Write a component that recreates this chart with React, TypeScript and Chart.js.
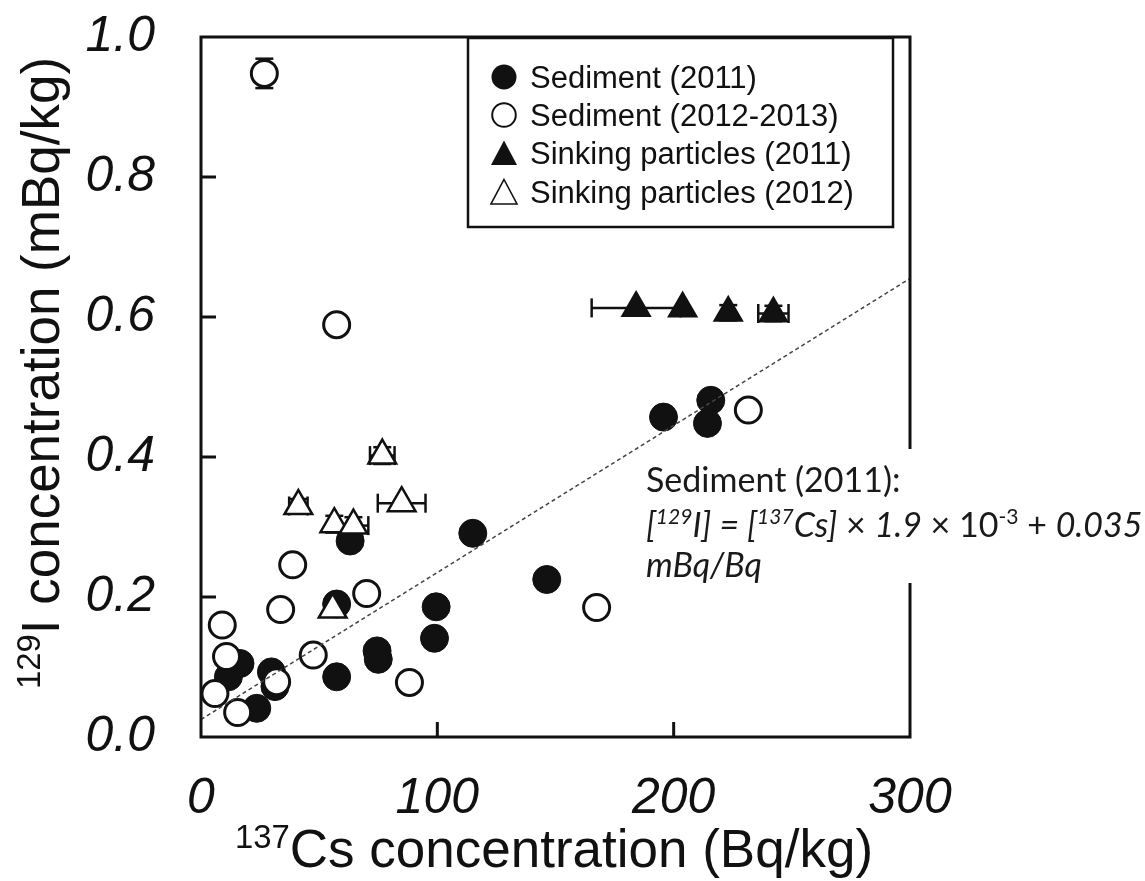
import React, { useEffect, useRef } from 'react';
import { Chart, registerables } from 'chart.js';

Chart.register(...registerables);

// ---------------- data ----------------
const xTicks = [0, 100, 200, 300];
const yTicks = [0, 0.2, 0.4, 0.6, 0.8, 1.0];

const legendLabels = [
  'Sediment (2011)',
  'Sediment (2012-2013)',
  'Sinking particles (2011)',
  'Sinking particles (2012)',
];

// Sediment (2011) – filled circles
const sed2011X = [195.7, 215.7, 214.3, 115.0, 146.3, 99.5, 98.8, 74.5, 75.0, 57.4, 57.4, 63.1, 16.5, 11.6, 23.6, 29.8, 31.3];
const sed2011Y = [0.457, 0.481, 0.448, 0.291, 0.225, 0.186, 0.141, 0.123, 0.111, 0.086, 0.19, 0.28, 0.105, 0.086, 0.041, 0.093, 0.072];

// Sediment (2012-2013) – open circles
const sed1213X = [26.8, 57.4, 38.8, 33.7, 70.1, 47.5, 9.0, 10.8, 5.9, 15.5, 32.0, 88.2, 167.4, 231.6];
const sed1213Y = [0.948, 0.589, 0.246, 0.182, 0.205, 0.117, 0.16, 0.115, 0.062, 0.035, 0.079, 0.078, 0.185, 0.467];
const sed1213ErrY = [0.021, 0, 0, 0, 0, 0, 0, 0, 0, 0, 0, 0, 0, 0];

// Sinking particles (2011) – filled triangles
const sink2011X = [184.1, 203.8, 223.1, 242.2];
const sink2011Y = [0.613, 0.612, 0.606, 0.605];
const sink2011ErrX = [18.8, 0, 0, 6.4];
const sink2011ErrY = [0, 0, 0.011, 0.011];

// Sinking particles (2012) – open triangles
const sink2012X = [76.7, 84.9, 41.2, 56.4, 64.5, 55.7];
const sink2012Y = [0.402, 0.334, 0.33, 0.304, 0.302, 0.182];
const sink2012ErrX = [5.2, 10.1, 3.9, 0, 6.3, 0];
const sink2012ErrY = [0.012, 0, 0.01, 0.012, 0.012, 0];

// Regression line (dashed)
const fitX = [0, 300];
const fitSlope = 0.0021;
const fitIntercept = 0.025;

// ---------------- styling ----------------
const FONT = '"Liberation Sans", Arial, sans-serif';
const ANN_FONT = 'Lato, "Open Sans", sans-serif';
const INK = '#111';

const pts = (xs: number[], ys: number[]) => xs.map((x, i) => ({ x, y: ys[i] }));

const errorSets: Record<string, { x?: number[]; y?: number[] }> = {
  [legendLabels[1]]: { y: sed1213ErrY },
  [legendLabels[2]]: { x: sink2011ErrX, y: sink2011ErrY },
  [legendLabels[3]]: { x: sink2012ErrX, y: sink2012ErrY },
};

type Seg = { t: string; it?: boolean; sup?: boolean };

function drawRich(
  ctx: CanvasRenderingContext2D,
  segs: Seg[],
  x: number,
  y: number,
  size: number,
  family: string,
  align: 'left' | 'center',
  supScale = 0.62,
  supRaise = 0.38
) {
  const fontOf = (s: Seg) => `${s.it ? 'italic ' : ''}${s.sup ? size * supScale : size}px ${family}`;
  const widths = segs.map((s) => {
    ctx.font = fontOf(s);
    return ctx.measureText(s.t).width;
  });
  const total = widths.reduce((a, b) => a + b, 0);
  let cx = align === 'center' ? x - total / 2 : x;
  ctx.textAlign = 'left';
  ctx.textBaseline = 'alphabetic';
  segs.forEach((s, i) => {
    ctx.font = fontOf(s);
    ctx.fillText(s.t, cx, s.sup ? y - size * supRaise : y);
    cx += widths[i];
  });
}

function line(ctx: CanvasRenderingContext2D, x1: number, y1: number, x2: number, y2: number) {
  ctx.beginPath();
  ctx.moveTo(x1, y1);
  ctx.lineTo(x2, y2);
  ctx.stroke();
}

const decorPlugin = {
  id: 'decor',
  beforeDatasetsDraw(chart: any) {
    const ctx: CanvasRenderingContext2D = chart.ctx;
    const xs = chart.scales.x;
    const ys = chart.scales.y;
    ctx.save();
    ctx.strokeStyle = INK;
    ctx.lineWidth = 2.5;
    chart.data.datasets.forEach((ds: any) => {
      const err = errorSets[ds.label];
      if (!err) return;
      ds.data.forEach((p: any, j: number) => {
        const px = xs.getPixelForValue(p.x);
        const py = ys.getPixelForValue(p.y);
        if (err.x && err.x[j]) {
          const x1 = xs.getPixelForValue(p.x - err.x[j]);
          const x2 = xs.getPixelForValue(p.x + err.x[j]);
          line(ctx, x1, py, x2, py);
          line(ctx, x1, py - 9.5, x1, py + 9.5);
          line(ctx, x2, py - 9.5, x2, py + 9.5);
        }
        if (err.y && err.y[j]) {
          const y1 = ys.getPixelForValue(p.y - err.y[j]);
          const y2 = ys.getPixelForValue(p.y + err.y[j]);
          line(ctx, px, y1, px, y2);
          line(ctx, px - 9, y1, px + 9, y1);
          line(ctx, px - 9, y2, px + 9, y2);
        }
      });
    });
    ctx.restore();
  },
  afterDatasetsDraw(chart: any) {
    const ctx: CanvasRenderingContext2D = chart.ctx;
    const { left, right, top, bottom } = chart.chartArea;
    const xs = chart.scales.x;
    const ys = chart.scales.y;
    ctx.save();
    // frame
    ctx.strokeStyle = INK;
    ctx.lineWidth = 3;
    ctx.strokeRect(left, top, right - left, bottom - top);
    // inward ticks
    yTicks.forEach((v) => {
      if (v === yTicks[0] || v === yTicks[yTicks.length - 1]) return;
      const py = ys.getPixelForValue(v);
      line(ctx, left, py, left + 15, py);
    });
    xTicks.forEach((v) => {
      if (v === xTicks[0] || v === xTicks[xTicks.length - 1]) return;
      const px = xs.getPixelForValue(v);
      line(ctx, px, bottom, px, bottom - 15);
    });

    // annotation box (white background hides part of the frame)
    ctx.fillStyle = '#fff';
    ctx.fillRect(640, 449, 505, 134);
    ctx.fillStyle = '#1a1a1a';
    const s = 34;
    drawRich(ctx, [{ t: 'Sediment (2011):' }], 646, 492, s, ANN_FONT, 'left');
    drawRich(
      ctx,
      [
        { t: '[', it: true },
        { t: '129', it: true, sup: true },
        { t: 'I] = [', it: true },
        { t: '137', it: true, sup: true },
        { t: 'Cs]', it: true },
        { t: ' × ' },
        { t: '1.9', it: true },
        { t: ' × 10' },
        { t: '-3', sup: true },
        { t: ' + ' },
        { t: '0.035', it: true },
      ],
      646,
      537,
      s,
      ANN_FONT,
      'left'
    );
    drawRich(ctx, [{ t: 'mBq/Bq', it: true }], 646, 577, s, ANN_FONT, 'left');
    ctx.restore();
  },
  afterDraw(chart: any) {
    const ctx: CanvasRenderingContext2D = chart.ctx;
    ctx.save();
    // legend box
    const lx = 468, ly = 38, lw = 425, lh = 189;
    ctx.fillStyle = '#fff';
    ctx.fillRect(lx, ly, lw, lh);
    ctx.strokeStyle = INK;
    ctx.lineWidth = 2.5;
    ctx.strokeRect(lx, ly, lw, lh);
    const rows = [77, 115, 153, 192];
    const mx = 504;
    rows.forEach((ry, i) => {
      ctx.fillStyle = INK;
      ctx.strokeStyle = INK;
      if (i === 0) {
        ctx.beginPath();
        ctx.arc(mx, ry, 12.5, 0, Math.PI * 2);
        ctx.fill();
      } else if (i === 1) {
        ctx.lineWidth = 2;
        ctx.beginPath();
        ctx.arc(mx, ry, 11.8, 0, Math.PI * 2);
        ctx.stroke();
      } else {
        ctx.beginPath();
        ctx.moveTo(mx, ry - 12.5);
        ctx.lineTo(mx + 13, ry + 12);
        ctx.lineTo(mx - 13, ry + 12);
        ctx.closePath();
        if (i === 2) ctx.fill();
        else {
          ctx.lineWidth = 1.6;
          ctx.stroke();
        }
      }
      ctx.fillStyle = INK;
      ctx.font = `31px ${FONT}`;
      ctx.textAlign = 'left';
      ctx.textBaseline = 'alphabetic';
      ctx.fillText(legendLabels[i], 530, ry + 11);
    });

    // axis titles
    ctx.fillStyle = INK;
    drawRich(
      ctx,
      [{ t: '137', sup: true }, { t: 'Cs concentration (Bq/kg)' }],
      554,
      867,
      53,
      FONT,
      'center',
      0.62,
      0.36
    );
    ctx.translate(59, 373);
    ctx.rotate(-Math.PI / 2);
    drawRich(
      ctx,
      [{ t: '129', sup: true }, { t: 'I concentration (mBq/kg)' }],
      0,
      0,
      53,
      FONT,
      'center',
      0.62,
      0.36
    );
    ctx.restore();
  },
};

export default function App() {
  const ref = useRef<HTMLCanvasElement>(null);

  useEffect(() => {
    if (!ref.current) return;
    const tickFont = { family: FONT, size: 50, style: 'italic' as const, weight: 'normal' as const };
    const chart = new Chart(ref.current, {
      type: 'scatter',
      data: {
        datasets: [
          {
            type: 'line',
            label: 'fit',
            data: fitX.map((x) => ({ x, y: fitIntercept + fitSlope * x })),
            borderColor: '#444',
            borderWidth: 1.5,
            borderDash: [4, 3],
            pointRadius: 0,
            fill: false,
            order: 0,
            clip: false,
          } as any,
          {
            label: legendLabels[3],
            data: pts(sink2012X, sink2012Y),
            pointStyle: 'triangle',
            pointRadius: 16,
            backgroundColor: '#fff',
            borderColor: INK,
            borderWidth: 2.5,
            order: 1,
            clip: false,
          } as any,
          {
            label: legendLabels[2],
            data: pts(sink2011X, sink2011Y),
            pointStyle: 'triangle',
            pointRadius: 16.5,
            backgroundColor: INK,
            borderColor: INK,
            borderWidth: 1.5,
            order: 2,
            clip: false,
          } as any,
          {
            label: legendLabels[1],
            data: pts(sed1213X, sed1213Y),
            pointStyle: 'circle',
            pointRadius: 13,
            backgroundColor: '#fff',
            borderColor: INK,
            borderWidth: 3,
            order: 3,
            clip: false,
          } as any,
          {
            label: legendLabels[0],
            data: pts(sed2011X, sed2011Y),
            pointStyle: 'circle',
            pointRadius: 14,
            backgroundColor: INK,
            borderColor: INK,
            borderWidth: 1,
            order: 4,
            clip: false,
          } as any,
        ],
      },
      options: {
        animation: false,
        responsive: false,
        events: [],
        layout: { padding: { left: 0, right: 235, top: 37, bottom: 0 } },
        plugins: {
          legend: { display: false },
          tooltip: { enabled: false },
        },
        scales: {
          x: {
            type: 'linear',
            min: 0,
            max: 300,
            afterBuildTicks: (s: any) => {
              s.ticks = xTicks.map((value) => ({ value }));
            },
            afterFit: (s: any) => {
              s.height = 144;
              s.paddingLeft = 0;
              s.paddingRight = 0;
              s.paddingTop = 0;
              s.paddingBottom = 0;
            },
            grid: { display: false, drawTicks: false },
            border: { display: false },
            ticks: {
              font: tickFont,
              color: INK,
              padding: 32,
              maxRotation: 0,
              autoSkip: false,
              callback: (v: any) => String(v),
            },
          },
          y: {
            type: 'linear',
            min: 0,
            max: 1,
            afterBuildTicks: (s: any) => {
              s.ticks = yTicks.map((value) => ({ value }));
            },
            afterFit: (s: any) => {
              s.width = 201;
              s.paddingLeft = 0;
              s.paddingRight = 0;
              s.paddingTop = 0;
              s.paddingBottom = 0;
            },
            grid: { display: false, drawTicks: false },
            border: { display: false },
            ticks: {
              font: tickFont,
              color: INK,
              padding: 46,
              autoSkip: false,
              callback: (v: any) => Number(v).toFixed(1),
            },
          },
        },
      },
      plugins: [decorPlugin],
    } as any);
    return () => chart.destroy();
  }, []);

  return (
    <div style={{ position: 'absolute', left: 0, top: 0, width: 1145, height: 881, background: '#fff' }}>
      <canvas ref={ref} width={1145} height={881} style={{ display: 'block' }} />
    </div>
  );
}
